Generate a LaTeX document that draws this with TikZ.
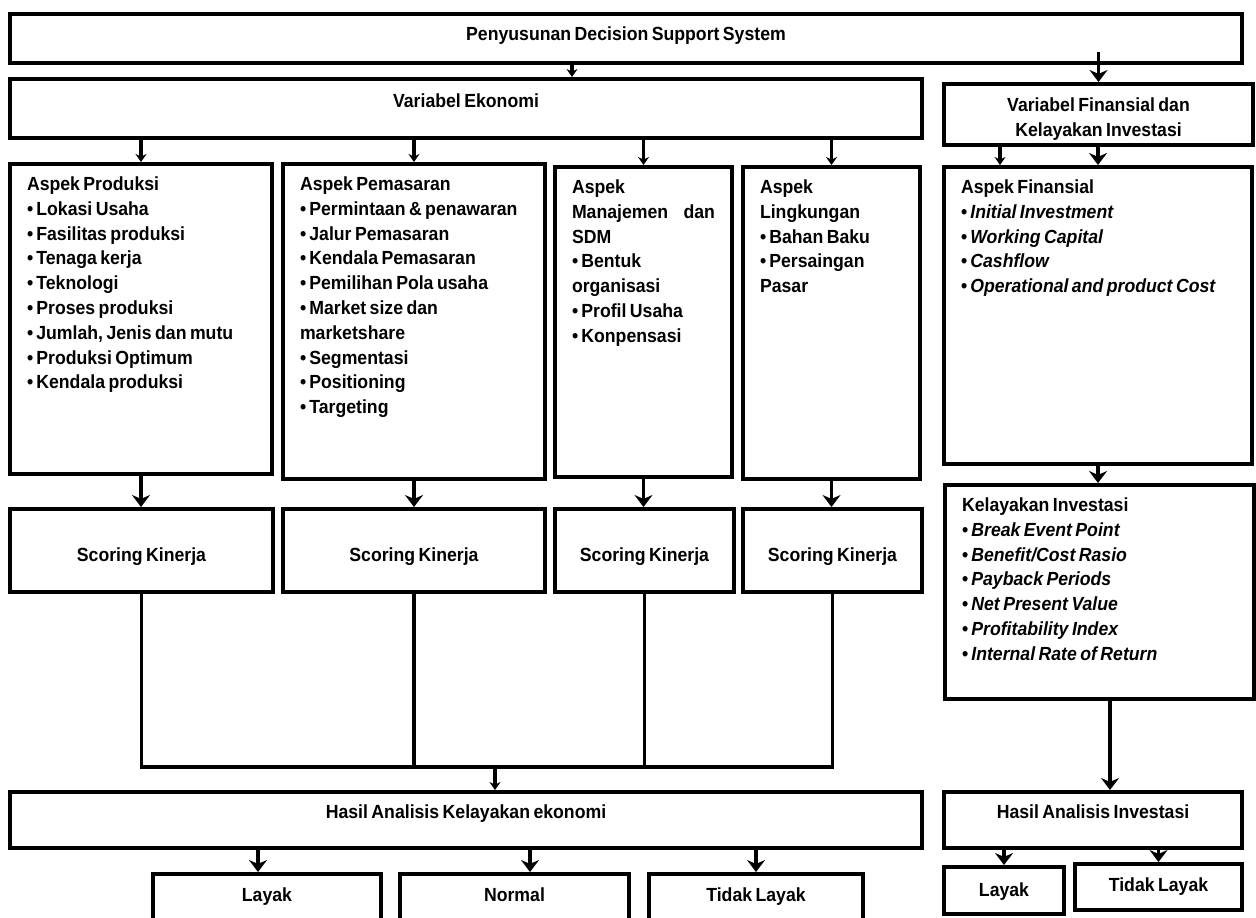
\documentclass[tikz,border=0pt]{standalone}
\usepackage{fontspec}
\setmainfont{Liberation Sans}[FakeStretch=0.93,WordSpace=0.7]
\usetikzlibrary{arrows.meta}

\begin{document}
\begin{tikzpicture}[x=0.5pt,y=-0.5pt,font=\fontsize{9.5}{12.4}\selectfont\bfseries]
\tikzstyle{box}=[draw,line width=2pt,inner sep=0pt,anchor=north west]
\tikzstyle{aspek}=[box,inner xsep=8.5pt]
\tikzstyle{garis}=[line width=1.8pt]
\tikzstyle{arr}=[garis,-{Stealth[length=4pt,width=5.5pt]}]
\tikzstyle{arrbig}=[garis,-{Stealth[length=6pt,width=9pt]}]
\useasboundingbox (0,0) rectangle (1256,917);
\clip (0,0) rectangle (1256,917);

\node[box,minimum width=616pt,text height=13pt,text depth=11.5pt] (dss) at (8,12) {Penyusunan Decision Support System};
\node[box,minimum width=456pt,text height=14.25pt,text depth=15.25pt] (ve) at (8,77) {Variabel Ekonomi};
\node[box] (vf) at (942,82) {\parbox[t][30.5pt][t]{154.5pt}{\centering\rule{0pt}{13.75pt}Variabel Finansial dan\\Kelayakan Investasi}};

\node[aspek] (prod) at (8,162) {\parbox[t][155pt][t]{114pt}{\rule{0pt}{13.25pt}Aspek Produksi\\
\textbullet\,Lokasi Usaha\\ \textbullet\,Fasilitas produksi\\ \textbullet\,Tenaga kerja\\ \textbullet\,Teknologi\\
\textbullet\,Proses produksi\\ \textbullet\,Jumlah, Jenis dan mutu\\ \textbullet\,Produksi Optimum\\ \textbullet\,Kendala produksi}};
\node[aspek] (pem) at (281,162) {\parbox[t][157.5pt][t]{114pt}{\rule{0pt}{13.25pt}Aspek Pemasaran\\
\textbullet\,Permintaan \& penawaran\\ \textbullet\,Jalur Pemasaran\\ \textbullet\,Kendala Pemasaran\\
\textbullet\,Pemilihan Pola usaha\\ \textbullet\,Market size dan\\ marketshare\\ \textbullet\,Segmentasi\\
\textbullet\,Positioning\\ \textbullet\,Targeting}};
\node[aspek] (man) at (553,165) {\parbox[t][155pt][t]{71.5pt}{\rule{0pt}{13.25pt}Aspek\\ Manajemen\hfill dan\\ SDM\\
\textbullet\,Bentuk\\ organisasi\\ \textbullet\,Profil Usaha\\ \textbullet\,Konpensasi}};
\node[aspek] (ling) at (741,165) {\parbox[t][156pt][t]{71.5pt}{\rule{0pt}{13.25pt}Aspek\\ Lingkungan\\
\textbullet\,Bahan Baku\\ \textbullet\,Persaingan\\ Pasar}};
\node[aspek] (fin) at (942,165) {\parbox[t][148.5pt][t]{137pt}{\rule{0pt}{13.25pt}Aspek Finansial\\
\textbullet\,\textit{Initial Investment}\\ \textbullet\,\textit{Working Capital}\\ \textbullet\,\textit{Cashflow}\\
\textbullet\,\textit{Operational and product Cost}}};

\node[box,minimum width=131.5pt,text height=26.25pt,text depth=15.25pt] (sk1) at (8,507) {Scoring Kinerja};
\node[box,minimum width=131pt,text height=26.25pt,text depth=15.25pt] (sk2) at (281,507) {Scoring Kinerja};
\node[box,minimum width=89.5pt,text height=26.25pt,text depth=15.25pt] (sk3) at (553,507) {Scoring Kinerja};
\node[box,minimum width=89.5pt,text height=26.25pt,text depth=15.25pt] (sk4) at (741,507) {Scoring Kinerja};
\node[aspek] (kel) at (943,483) {\parbox[t][107pt][t]{137.5pt}{\rule{0pt}{13.25pt}Kelayakan Investasi\\
\textbullet\,\textit{Break Event Point}\\ \textbullet\,\textit{Benefit/Cost Rasio}\\ \textbullet\,\textit{Payback Periods}\\
\textbullet\,\textit{Net Present Value}\\ \textbullet\,\textit{Profitability Index}\\ \textbullet\,\textit{Internal Rate of Return}}};

\node[box,minimum width=456pt,text height=13.25pt,text depth=14.75pt] (he) at (8,790) {Hasil Analisis Kelayakan ekonomi};
\node[box,minimum width=149pt,text height=13.25pt,text depth=14.75pt] (hi) at (942,790) {Hasil Analisis Investasi};
\node[box,minimum width=114pt,text height=13.75pt,text depth=20pt] (ly1) at (151,872) {Layak};
\node[box,minimum width=114.5pt,text height=13.75pt,text depth=20pt] (nm) at (398,872) {Normal};
\node[box,minimum width=107pt,text height=13.75pt,text depth=20pt] (tl1) at (647,872) {Tidak Layak};
\node[box,minimum width=60pt,text height=14.75pt,text depth=8.75pt] (ly2) at (942,865) {Layak};
\node[box,minimum width=83.5pt,text height=13.75pt,text depth=9.25pt] (tl2) at (1073,862) {Tidak Layak};

\coordinate (c1) at (572,0);
\coordinate (c2) at (1000,0);
\coordinate (c3) at (1110,0);
\coordinate (j) at (495,767);
\coordinate (a1) at (258,0);
\coordinate (a2) at (530,0);
\coordinate (a3) at (756,0);

\draw[arr] (dss.south -| c1) -- (ve.north -| c1);
\draw[arrbig] ([yshift=6.5pt]dss.south -| vf.north) -- (vf.north);
\foreach \n in {prod,pem,man,ling}
  \draw[arr] (ve.south -| \n.north) -- (\n.north);
\draw[arr] (vf.south -| c2) -- (fin.north -| c2);
\draw[arrbig] (vf.south -| fin.north) -- (fin.north);
\foreach \a/\s in {prod/sk1,pem/sk2,man/sk3,ling/sk4}
  \draw[arrbig] (\a.south) -- (\a.south |- \s.north);
\draw[garis] (sk1.south) -- (sk1.south |- j) -- (sk4.south |- j) -- (sk4.south);
\foreach \s in {sk2,sk3}
  \draw[garis] (\s.south) -- (\s.south |- j);
\draw[arr] (j) -- (he.north -| j);
\draw[arrbig] (fin.south) -- (fin.south |- kel.north);
\draw[arrbig] (kel.south -| c3) -- (hi.north -| c3);
\foreach \a/\n in {a1/ly1,a2/nm,a3/tl1}
  \draw[arrbig] (he.south -| \a) -- (\n.north -| \a);
\draw[arrbig] (hi.south -| ly2.north) -- (ly2.north);
\draw[arrbig] ([yshift=2pt]hi.south -| tl2.north) -- (tl2.north);
\end{tikzpicture}
\end{document}
